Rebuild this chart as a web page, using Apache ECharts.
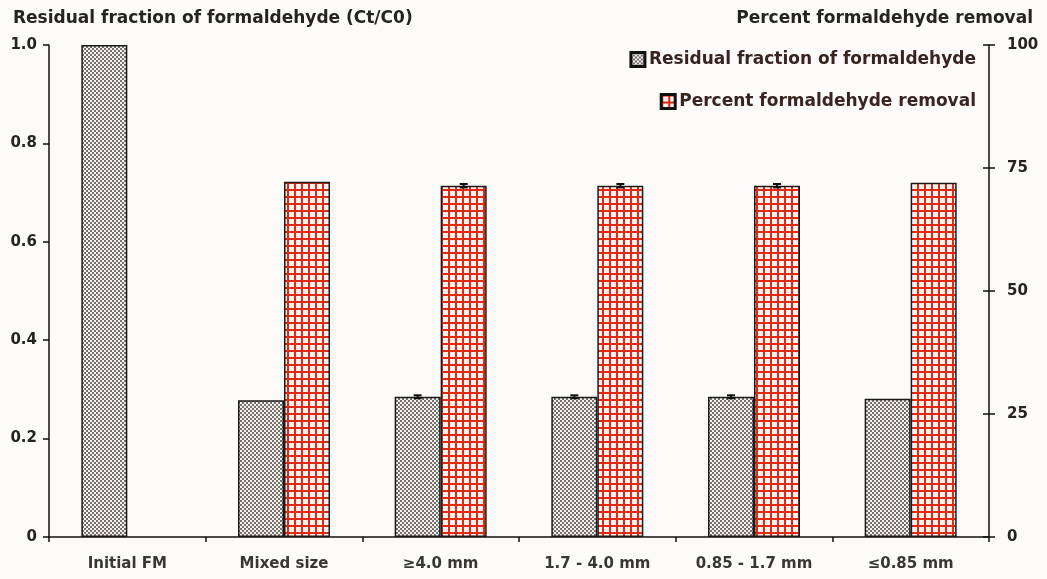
<!DOCTYPE html>
<html>
<head>
<meta charset="utf-8">
<script src="https://cdn.jsdelivr.net/npm/echarts@6/dist/echarts.min.js"></script>
<style>
  html, body { margin: 0; padding: 0; background: #fdfbf9; }
  #chart { width: 1047px; height: 579px; }
</style>
</head>
<body>
<div id="chart"></div>
<script>
// Particle size fractions of the adsorbent
const categories = ['Initial FM', 'Mixed size', '\u22654.0 mm', '1.7 - 4.0 mm', '0.85 - 1.7 mm', '\u22640.85 mm'];
// Residual fraction of formaldehyde (Ct/C0), left axis
const residualFraction = [1.0, 0.278, 0.285, 0.285, 0.285, 0.281];
const residualError = [null, null, 0.003, 0.003, 0.003, null];
// Percent formaldehyde removal, right axis
const percentRemoval = [null, 72.2, 71.4, 71.4, 71.4, 72.0];
const percentError = [null, null, 0.35, 0.35, 0.35, null];
// Axis ticks
const leftTicks = { min: 0, max: 1, interval: 0.2 };
const rightTicks = { min: 0, max: 100, interval: 25 };

const FONT = '"DejaVu Sans", Lato, sans-serif';
const TEXT = '#262320';

// Fine grey checkerboard fill
function checkerPattern() {
  const c = document.createElement('canvas');
  c.width = 4; c.height = 4;
  const g = c.getContext('2d');
  g.fillStyle = '#f4f1ef'; g.fillRect(0, 0, 4, 4);
  g.fillStyle = '#74716f';
  g.fillRect(0, 0, 2, 2); g.fillRect(2, 2, 2, 2);
  return { image: c, repeat: 'repeat' };
}
// Red grid fill
function gridPattern() {
  const c = document.createElement('canvas');
  c.width = 7; c.height = 7;
  const g = c.getContext('2d');
  g.fillStyle = '#fbf3f1'; g.fillRect(0, 0, 7, 7);
  g.fillStyle = '#e02a12';
  g.fillRect(0, 0, 2, 7); g.fillRect(0, 0, 7, 2);
  return { image: c, repeat: 'repeat' };
}

const checker = checkerPattern();
const grid = gridPattern();
const BAR_W = 46;

// Error bar drawn at an offset from the category centre
function errorRenderer(offset) {
  return function (params, api) {
    const v = api.value(1), e = api.value(2);
    if (v == null || e == null || isNaN(e)) return;
    const hi = api.coord([api.value(0), v + e]);
    const lo = api.coord([api.value(0), v - e]);
    const x = hi[0] + offset;
    const hw = 4;
    const style = { stroke: '#111', lineWidth: 2 };
    return {
      type: 'group',
      children: [
        { type: 'line', shape: { x1: x, y1: hi[1], x2: x, y2: lo[1] }, style },
        { type: 'line', shape: { x1: x - hw, y1: hi[1], x2: x + hw, y2: hi[1] }, style },
        { type: 'line', shape: { x1: x - hw, y1: lo[1], x2: x + hw, y2: lo[1] }, style }
      ]
    };
  };
}

const chart = echarts.init(document.getElementById('chart'), null, { renderer: 'canvas' });

const labelStyle = { fontFamily: FONT, fontWeight: 'bold', fontSize: 15, color: TEXT };
const headStyle = { fontFamily: FONT, fontWeight: 'bold', fontSize: 17, color: TEXT };
const legendText = { fontFamily: FONT, fontWeight: 'bold', fontSize: 17, color: '#3a2420', padding: [0, 0, 0, -1] };
const legendIcon = { borderColor: '#111', borderWidth: 3 };

chart.setOption({
  backgroundColor: '#fdfbf9',
  animation: false,
  title: [
    { text: 'Residual fraction of formaldehyde (Ct/C0)', left: 8, top: 5, textStyle: headStyle },
    { text: 'Percent formaldehyde removal', right: 9, top: 5, textStyle: headStyle }
  ],
  legend: [
    { data: ['Residual fraction of formaldehyde'], right: 66, top: 46, icon: 'rect',
      itemWidth: 14, itemHeight: 14, itemGap: 4, itemStyle: legendIcon, textStyle: legendText },
    { data: ['Percent formaldehyde removal'], right: 66, top: 88, icon: 'rect',
      itemWidth: 14, itemHeight: 14, itemGap: 4, itemStyle: legendIcon, textStyle: legendText }
  ],
  grid: { left: 49, right: 58, top: 45, bottom: 42 },
  xAxis: {
    type: 'category',
    data: categories,
    axisLine: { lineStyle: { color: '#111', width: 1.5 } },
    axisTick: { show: true, length: 5, lineStyle: { color: '#111', width: 1.5 } },
    axisLabel: Object.assign({}, labelStyle, { margin: 20, color: '#3a3634' })
  },
  yAxis: [
    { type: 'value', position: 'left', min: leftTicks.min, max: leftTicks.max, interval: leftTicks.interval,
      splitLine: { show: false },
      axisLine: { show: true, lineStyle: { color: '#111', width: 1.5 } },
      axisTick: { show: true, length: 6, lineStyle: { color: '#111', width: 1.5 } },
      axisLabel: Object.assign({ margin: 12,
        formatter: v => (v === 0 ? '0' : v.toFixed(1)) }, labelStyle) },
    { type: 'value', position: 'right', min: rightTicks.min, max: rightTicks.max, interval: rightTicks.interval,
      splitLine: { show: false },
      axisLine: { show: true, lineStyle: { color: '#111', width: 1.5 } },
      axisTick: { show: true, length: 6, lineStyle: { color: '#111', width: 1.5 } },
      axisLabel: Object.assign({ margin: 18 }, labelStyle) },
    // inner half of the crossing ticks on the right axis
    { type: 'value', position: 'right', min: rightTicks.min, max: rightTicks.max, interval: rightTicks.interval,
      splitLine: { show: false },
      axisLine: { show: false },
      axisTick: { show: true, inside: true, length: 6, lineStyle: { color: '#111', width: 1.5 } },
      axisLabel: { show: false } }
  ],
  series: [
    { name: 'Residual fraction of formaldehyde', type: 'bar', yAxisIndex: 0,
      data: residualFraction, barWidth: BAR_W, barGap: '0%',
      itemStyle: { color: checker, borderColor: '#1a1a1a', borderWidth: 1.5 } },
    { name: 'Percent formaldehyde removal', type: 'bar', yAxisIndex: 1,
      data: percentRemoval, barWidth: BAR_W, barGap: '0%',
      itemStyle: { color: grid, borderColor: '#1a1a1a', borderWidth: 1.5 } },
    { type: 'custom', yAxisIndex: 0, silent: true, z: 5,
      data: categories.map((c, i) => [i, residualFraction[i], residualError[i]]),
      renderItem: errorRenderer(-BAR_W / 2) },
    { type: 'custom', yAxisIndex: 1, silent: true, z: 5,
      data: categories.map((c, i) => [i, percentRemoval[i], percentError[i]]),
      renderItem: errorRenderer(BAR_W / 2) }
  ]
});
</script>
</body>
</html>
